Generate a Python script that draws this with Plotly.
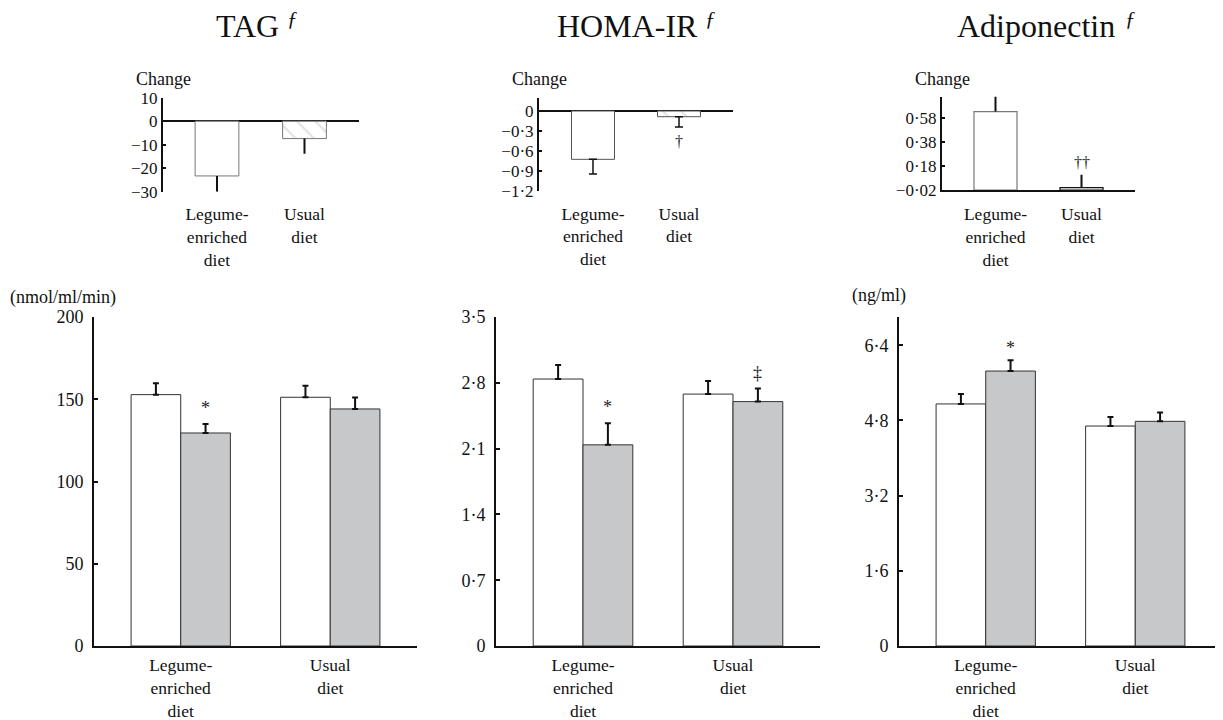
import plotly.graph_objects as go

# ---------------- data ----------------
categories = ["Legume-<br>enriched<br>diet", "Usual<br>diet"]

# main panels: baseline (white) and after (grey) means and SEM
tag_before = [152.8, 151.2]
tag_after = [129.5, 144.1]
tag_before_err = [7.0, 7.0]
tag_after_err = [5.5, 7.0]

homa_before = [2.84, 2.68]
homa_after = [2.14, 2.60]
homa_before_err = [0.15, 0.14]
homa_after_err = [0.23, 0.14]

adipo_before = [5.15, 4.68]
adipo_after = [5.85, 4.78]
adipo_before_err = [0.21, 0.19]
adipo_after_err = [0.23, 0.19]

# insets: change values
tag_change = [-23.3, -7.4]
tag_change_err = [6.7, 6.5]
homa_change = [-0.725, -0.085]
homa_change_err = [0.22, 0.155]
adipo_change = [0.636, 0.0]
adipo_change_err = [0.154, 0.108]

tag_ticks = [0, 50, 100, 150, 200]
tag_ticktext = ["0", "50", "100", "150", "200"]
homa_ticks = [0, 0.7, 1.4, 2.1, 2.8, 3.5]
homa_ticktext = ["0", "0·7", "1·4", "2·1", "2·8", "3·5"]
adipo_ticks = [0, 1.6, 3.2, 4.8, 6.4]
adipo_ticktext = ["0", "1·6", "3·2", "4·8", "6·4"]

tag_ch_ticks = [10, 0, -10, -20, -30]
tag_ch_ticktext = ["10", "0", "−10", "−20", "−30"]
homa_ch_ticks = [0, -0.3, -0.6, -0.9, -1.2]
homa_ch_ticktext = ["0", "−0·3", "−0·6", "−0·9", "−1·2"]
adipo_ch_ticks = [-0.02, 0.18, 0.38, 0.58]
adipo_ch_ticktext = ["−0·02", "0·18", "0·38", "0·58"]

titles = ["TAG", "HOMA-IR", "Adiponectin"]
title_mark = "ƒ"

# ---------------- style ----------------
W, H = 1223, 720
PAGE_OFF = 8  # default body margin of the html page
FONT = "Liberation Serif"
TXT = "#111111"
GREY = "#c7c8ca"
BARGAP = 0.336
BAR_W = (1 - BARGAP) / 2
X = [0, 1]


def px_x(p):
    return (p - PAGE_OFF) / W


def px_y(p):
    return 1 - (p - PAGE_OFF) / H


fig = go.Figure()

main_axes = [
    ("x", "y", tag_before, tag_after, tag_before_err, tag_after_err),
    ("x2", "y2", homa_before, homa_after, homa_before_err, homa_after_err),
    ("x3", "y3", adipo_before, adipo_after, adipo_before_err, adipo_after_err),
]
for xa, ya, b, a, be, ae in main_axes:
    fig.add_trace(go.Bar(x=X, y=b, xaxis=xa, yaxis=ya, marker=dict(color="white", line=dict(color="#333333", width=1)),
                         error_y=dict(type="data", symmetric=False, array=be, arrayminus=[0, 0],
                                      color="#111111", thickness=2, width=3),
                         showlegend=False, hoverinfo="skip"))
    fig.add_trace(go.Bar(x=X, y=a, xaxis=xa, yaxis=ya, marker=dict(color=GREY, line=dict(color="#333333", width=1)),
                         error_y=dict(type="data", symmetric=False, array=ae, arrayminus=[0, 0],
                                      color="#111111", thickness=2, width=3),
                         showlegend=False, hoverinfo="skip"))

hatch = dict(shape=["", "\\"], fgcolor="#c2c2c2", bgcolor="white", size=13, solidity=0.15)

# inset 1 (TAG change)
fig.add_trace(go.Bar(x=X, y=tag_change, xaxis="x4", yaxis="y4", width=0.5,
                     marker=dict(color="white", line=dict(color="#777777", width=1), pattern=hatch),
                     error_y=dict(type="data", symmetric=False, array=[0, 0], arrayminus=tag_change_err,
                                  color="#111111", thickness=2, width=0),
                     showlegend=False, hoverinfo="skip"))
# inset 2 (HOMA change)
fig.add_trace(go.Bar(x=X, y=homa_change, xaxis="x5", yaxis="y5", width=0.5,
                     marker=dict(color="white", line=dict(color="#555555", width=1), pattern=hatch),
                     error_y=dict(type="data", symmetric=False, array=[0, 0], arrayminus=homa_change_err,
                                  color="#111111", thickness=1.5, width=4),
                     showlegend=False, hoverinfo="skip"))
# inset 3 (adiponectin change) – bars rise from the axis at -0.02
ADIPO_MIN = adipo_ch_ticks[0]
fig.add_trace(go.Bar(x=X, y=[v - ADIPO_MIN for v in adipo_change], base=ADIPO_MIN, xaxis="x6", yaxis="y6", width=0.5,
                     marker=dict(color="white", line=dict(color=["#777777", "#111111"], width=1.2)),
                     error_y=dict(type="data", symmetric=False, array=adipo_change_err, arrayminus=[0, 0],
                                  color="#111111", thickness=2, width=0),
                     cliponaxis=False, showlegend=False, hoverinfo="skip"))

tickfont_main = dict(family=FONT, size=18, color=TXT)
catfont = dict(family=FONT, size=17.5, color=TXT)
tickfont_inset = dict(family=FONT, size=17, color=TXT)


def main_x(dom):
    return dict(domain=dom, range=[-0.58, 1.58], tickvals=X, ticktext=categories, showline=True, linewidth=2,
                linecolor="#111111", ticks="", zeroline=False, showgrid=False, tickfont=catfont,
                ticklabelstandoff=2, automargin=False, fixedrange=True)


def main_y(rng, tv, tt, anchor):
    return dict(domain=[px_y(646), px_y(317)], range=rng, tickvals=tv, ticktext=tt, showline=True, linewidth=2,
                linecolor="#111111", ticks="inside", ticklen=4, tickwidth=1.5, tickcolor="#111111",
                zeroline=False, showgrid=False, tickfont=tickfont_main, anchor=anchor, ticklabelstandoff=5,
                automargin=False, fixedrange=True)


layout = dict(
    width=W, height=H, autosize=False, margin=dict(l=0, r=0, t=0, b=0, pad=0),
    paper_bgcolor="white", plot_bgcolor="white", barmode="group", bargap=BARGAP, bargroupgap=0,
    font=dict(family=FONT, color=TXT),
    xaxis=dict(main_x([px_x(94), px_x(417)]), anchor="y"),
    yaxis=main_y([0, 200], tag_ticks, tag_ticktext, "x"),
    xaxis2=dict(main_x([px_x(496), px_x(820)]), anchor="y2"),
    yaxis2=main_y([0, 3.5], homa_ticks, homa_ticktext, "x2"),
    xaxis3=dict(main_x([px_x(899), px_x(1222)]), anchor="y3"),
    yaxis3=main_y([0, 7.0], adipo_ticks, adipo_ticktext, "x3"),
)


def inset_x(dom, rng, anchor, line, standoff):
    return dict(domain=dom, range=rng, tickvals=X, ticktext=categories, showline=line, linewidth=2,
                linecolor="#111111", ticks="", zeroline=False, showgrid=False, tickfont=catfont,
                ticklabelstandoff=standoff, anchor=anchor, automargin=False, fixedrange=True)


def inset_y(dom, rng, tv, tt, anchor, zl):
    return dict(domain=dom, range=rng, tickvals=tv, ticktext=tt, showline=True, linewidth=2,
                linecolor="#111111", ticks="inside", ticklen=3, tickwidth=1.5, tickcolor="#111111",
                zeroline=zl, zerolinecolor="#111111", zerolinewidth=2, showgrid=False,
                tickfont=tickfont_inset, anchor=anchor, automargin=False, fixedrange=True)


layout.update(
    xaxis4=inset_x([px_x(163), px_x(359)], [-0.617, 1.623], "y4", False, 10),
    yaxis4=inset_y([px_y(191.7), px_y(97.7)], [-30, 10], tag_ch_ticks, tag_ch_ticktext, "x4", True),
    xaxis5=inset_x([px_x(539), px_x(733)], [-0.628, 1.628], "y5", False, 10),
    yaxis5=inset_y([px_y(191), px_y(97.7)], [-1.2, 0.2], homa_ch_ticks, homa_ch_ticktext, "x5", True),
    xaxis6=inset_x([px_x(942), px_x(1135)], [-0.622, 1.622], "y6", True, 7),
    yaxis6=inset_y([px_y(190), px_y(96.7)], [ADIPO_MIN, 0.76], adipo_ch_ticks, adipo_ch_ticktext, "x6", False),
)
fig.update_layout(layout)

ann = []
# titles and their superscript mark
for t, cx, mx in zip(titles, [247.5, 627.5, 1035.5], [292, 710, 1130]):
    ann.append(dict(text=t, x=px_x(cx), y=px_y(26), xref="paper", yref="paper",
                    xanchor="center", yanchor="middle", showarrow=False, font=dict(family=FONT, size=32, color=TXT)))
    ann.append(dict(text="<i>" + title_mark + "</i>", x=px_x(mx), y=px_y(19), xref="paper", yref="paper",
                    xanchor="center", yanchor="middle", showarrow=False, font=dict(family=FONT, size=21, color=TXT)))
# "Change" labels
for cx in [163.5, 539, 942.5]:
    ann.append(dict(text="Change", x=px_x(cx), y=px_y(79), xref="paper", yref="paper", xanchor="center",
                    yanchor="middle", showarrow=False, font=dict(family=FONT, size=18, color=TXT)))
# units
ann.append(dict(text="(nmol/ml/min)", x=px_x(63.5), y=px_y(297), xref="paper", yref="paper", xanchor="center",
                yanchor="middle", showarrow=False, font=dict(family=FONT, size=18, color=TXT)))
ann.append(dict(text="(ng/ml)", x=px_x(879), y=px_y(295), xref="paper", yref="paper", xanchor="center",
                yanchor="middle", showarrow=False, font=dict(family=FONT, size=18, color=TXT)))

sym_font = dict(family=FONT, size=18, color="#222222")
# significance marks on main panels
ann.append(dict(text="*", x=0 + BAR_W / 2, y=tag_after[0] + tag_after_err[0], xref="x", yref="y",
                yanchor="bottom", yshift=4, showarrow=False, font=sym_font))
ann.append(dict(text="*", x=0 + BAR_W / 2, y=homa_after[0] + homa_after_err[0], xref="x2", yref="y2",
                yanchor="bottom", yshift=4, showarrow=False, font=sym_font))
ann.append(dict(text="‡", x=1 + BAR_W / 2, y=homa_after[1] + homa_after_err[1], xref="x2", yref="y2",
                yanchor="bottom", yshift=3, showarrow=False, font=sym_font))
ann.append(dict(text="*", x=0 + BAR_W / 2, y=adipo_after[0] + adipo_after_err[0], xref="x3", yref="y3",
                yanchor="bottom", yshift=0, showarrow=False, font=sym_font))
# inset marks
ann.append(dict(text="†", x=1, y=homa_change[1] - homa_change_err[1], xref="x5", yref="y5",
                yanchor="top", yshift=-4, showarrow=False, font=dict(family=FONT, size=16, color="#222222")))
ann.append(dict(text="††", x=1, y=adipo_change[1] + adipo_change_err[1], xref="x6", yref="y6",
                yanchor="bottom", yshift=2, showarrow=False, font=dict(family=FONT, size=16, color="#222222")))
fig.update_layout(annotations=ann)

fig.write_html("out.html", config={"displayModeBar": False})
